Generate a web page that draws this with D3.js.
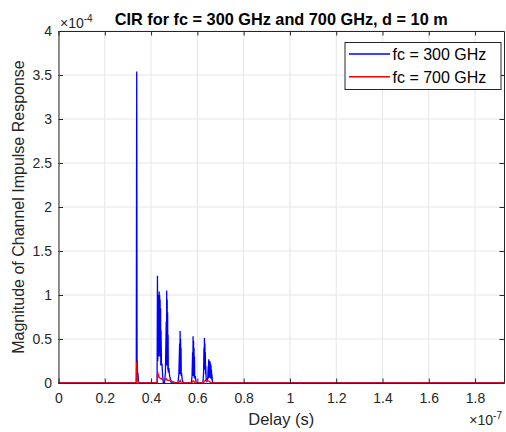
<!DOCTYPE html>
<html>
<head>
<meta charset="utf-8">
<script src="https://cdn.jsdelivr.net/npm/d3@7"></script>
<style>
body { margin: 0; background: #fff; }
text { font-family: "Liberation Sans", Arial, sans-serif; }
</style>
</head>
<body>
<svg id="chart" width="506" height="432"></svg>
<script>
// delay in units of 1e-7 s, magnitude in units of 1e-4
var blueDelay = [0, 0.336, 0.338, 0.3395, 0.3405, 0.3415, 0.343, 0.346,
  0.426, 0.4276, 0.429, 0.431, 0.432, 0.433, 0.434, 0.435, 0.436, 0.437, 0.438, 0.439, 0.44, 0.441, 0.442, 0.443, 0.445, 0.447, 0.45, 0.453,
  0.458, 0.462, 0.4655, 0.4665, 0.4675, 0.4685, 0.4695, 0.4705, 0.4715, 0.4725, 0.4735, 0.4745, 0.477, 0.48, 0.484, 0.488,
  0.516, 0.52, 0.5235, 0.5245, 0.5255, 0.5265, 0.5275, 0.5285, 0.5295, 0.5305, 0.532, 0.535, 0.54,
  0.574, 0.577, 0.5795, 0.5805, 0.5815, 0.5825, 0.5835, 0.5845, 0.5855, 0.5865, 0.5875, 0.5885, 0.591, 0.595,
  0.624, 0.627, 0.6285, 0.6295, 0.6305, 0.6315, 0.6325, 0.6335, 0.6345, 0.6355, 0.6365, 0.638,
  0.641, 0.645, 0.647, 0.648, 0.649, 0.65, 0.651, 0.652, 0.653, 0.654, 0.655, 0.656, 0.657, 0.658, 0.659, 0.66, 0.661, 0.662, 0.663, 0.6645, 0.666, 0.669,
  1.925];
var blueMag = [0, 0, 3.54, 0.1, 0.25, 0.05, 0.12, 0,
  0, 1.22, 0.25, 0.9, 0.3, 1.0, 0.35, 1.04, 0.4, 1.0, 0.3, 0.95, 0.3, 0.85, 0.2, 0.6, 0.2, 0.22, 0.08, 0,
  0, 0.12, 0.7, 0.2, 1.05, 0.25, 0.95, 0.2, 0.8, 0.15, 0.55, 0.12, 0.17, 0.08, 0.04, 0,
  0, 0.1, 0.45, 0.1, 0.59, 0.12, 0.5, 0.1, 0.4, 0.08, 0.11, 0.03, 0,
  0, 0.08, 0.35, 0.08, 0.53, 0.1, 0.48, 0.08, 0.4, 0.06, 0.3, 0.05, 0.08, 0,
  0, 0.12, 0.4, 0.15, 0.51, 0.19, 0.45, 0.15, 0.35, 0.1, 0.19, 0.04,
  0.02, 0.06, 0.2, 0.05, 0.27, 0.08, 0.22, 0.06, 0.25, 0.07, 0.24, 0.06, 0.22, 0.05, 0.2, 0.05, 0.15, 0.04, 0.1, 0.03, 0.01, 0,
  0];

var redDelay = [0, 0.336, 0.338, 0.339, 0.3405, 0.342, 0.345,
  0.426, 0.4276, 0.429, 0.4305, 0.432, 0.434, 0.437, 0.44, 0.444, 0.448, 0.453, 0.46, 0.466, 0.47, 0.475, 0.48, 0.49, 0.5, 0.506,
  0.52, 0.523, 0.526, 0.53, 0.576, 0.58, 0.584, 0.59,
  0.626, 0.63, 0.634, 0.64, 0.645, 0.65, 0.656, 0.662,
  1.925];
var redMag = [0, 0, 0.24, 0.1, 0.05, 0.03, 0,
  0, 0.08, 0.13, 0.06, 0.1, 0.07, 0.06, 0.05, 0.05, 0.04, 0.04, 0.035, 0.05, 0.03, 0.03, 0.03, 0.02, 0.01, 0,
  0, 0.02, 0.03, 0, 0, 0.02, 0.025, 0,
  0, 0.02, 0.03, 0.02, 0.025, 0.02, 0.01, 0,
  0];

var xTicks = [0, 0.2, 0.4, 0.6, 0.8, 1, 1.2, 1.4, 1.6, 1.8];
var yTicks = [0, 0.5, 1, 1.5, 2, 2.5, 3, 3.5, 4];
var seriesNames = ["fc = 300 GHz", "fc = 700 GHz"];
var seriesColors = ["#0000ff", "#ff0000"];

var svg = d3.select("#chart"),
margin = {top: 31, right: 2, bottom: 49, left: 58.5},
width = +svg.attr("width") - margin.left - margin.right,
height = +svg.attr("height") - margin.top - margin.bottom;

var x = d3.scaleLinear().domain([0, 1.925]).range([0, width]),
y = d3.scaleLinear().domain([0, 4]).range([height, 0]);

var g = svg.append("g")
.attr("transform", "translate(" + margin.left + "," + margin.top + ")");

// grid
g.selectAll(".gx").data(xTicks).enter().append("line")
.attr("x1", function(d) { return x(d); }).attr("x2", function(d) { return x(d); })
.attr("y1", 0).attr("y2", height)
.attr("stroke", "#e6e6e6").attr("stroke-width", 1);
g.selectAll(".gy").data(yTicks).enter().append("line")
.attr("y1", function(d) { return y(d); }).attr("y2", function(d) { return y(d); })
.attr("x1", 0).attr("x2", width)
.attr("stroke", "#e6e6e6").attr("stroke-width", 1);

// lines
var line = d3.line()
.x(function(d) { return x(d[0]); })
.y(function(d) { return y(d[1]); });

var blueData = blueDelay.map(function(d, i) { return [d, blueMag[i]]; });
var redData = redDelay.map(function(d, i) { return [d, redMag[i]]; });

g.append("path").datum(blueData)
.attr("d", line).attr("fill", "none")
.attr("stroke", seriesColors[0]).attr("stroke-width", 1.3);
g.append("path").datum(redData)
.attr("d", line).attr("fill", "none")
.attr("stroke", seriesColors[1]).attr("stroke-width", 1.3);

// axes (ticks inside, on all sides)
var axisColor = "#262626";
function styleAxis(sel) {
  sel.selectAll("path").attr("stroke", axisColor).attr("stroke-width", 1);
  sel.selectAll("line").attr("stroke", axisColor).attr("stroke-width", 1);
  sel.selectAll("text").attr("fill", axisColor).attr("font-size", "14px");
}

g.append("g")
.attr("transform", "translate(0," + height + ")")
.call(d3.axisBottom(x).tickValues(xTicks).tickSizeInner(-4.5).tickSizeOuter(0).tickPadding(10).tickFormat(d3.format("")))
.call(styleAxis);

g.append("g")
.call(d3.axisTop(x).tickValues(xTicks).tickSizeInner(-4.5).tickSizeOuter(0).tickFormat(""))
.call(styleAxis);

g.append("g")
.call(d3.axisLeft(y).tickValues(yTicks).tickSizeInner(-4.5).tickSizeOuter(0).tickPadding(6.5).tickFormat(d3.format("")))
.call(styleAxis);

g.append("g")
.attr("transform", "translate(" + width + ",0)")
.call(d3.axisRight(y).tickValues(yTicks).tickSizeInner(-4.5).tickSizeOuter(0).tickFormat(""))
.call(styleAxis);

// exponent labels
var ex = svg.append("text").attr("x", 60).attr("y", 28)
.attr("font-size", "14px").attr("fill", axisColor);
ex.append("tspan").text("\u00d710");
ex.append("tspan").attr("dy", -6).attr("font-size", "10px").text("-4");

var ex2 = svg.append("text").attr("x", 502).attr("y", 425)
.attr("text-anchor", "end").attr("font-size", "14px").attr("fill", axisColor);
ex2.append("tspan").text("\u00d710");
ex2.append("tspan").attr("dy", -6).attr("font-size", "10px").text("-7");

// title and axis labels
svg.append("text")
.attr("x", margin.left + width / 2).attr("y", 25)
.attr("text-anchor", "middle").attr("font-size", "16.3px").attr("font-weight", "bold")
.attr("fill", "#000")
.text("CIR for fc = 300 GHz and 700 GHz, d = 10 m");

svg.append("text")
.attr("x", margin.left + width / 2).attr("y", 425)
.attr("text-anchor", "middle").attr("font-size", "16.5px").attr("fill", axisColor)
.text("Delay (s)");

svg.append("text")
.attr("transform", "translate(24," + (margin.top + height / 2) + ") rotate(-90)")
.attr("text-anchor", "middle").attr("font-size", "16px").attr("fill", axisColor)
.text("Magnitude of Channel Impulse Response");

// legend
var legend = svg.append("g").attr("transform", "translate(345,42.5)");
legend.append("rect")
.attr("width", 156).attr("height", 47)
.attr("fill", "#fff").attr("stroke", axisColor).attr("stroke-width", 1);
seriesNames.forEach(function(name, i) {
  var yy = 11.5 + i * 22.7;
  legend.append("line")
  .attr("x1", 4).attr("x2", 45).attr("y1", yy).attr("y2", yy)
  .attr("stroke", seriesColors[i]).attr("stroke-width", 1.4);
  legend.append("text")
  .attr("x", 47.5).attr("y", yy + 6)
  .attr("font-size", "16px").attr("fill", "#000")
  .text(name);
});
</script>
</body>
</html>
